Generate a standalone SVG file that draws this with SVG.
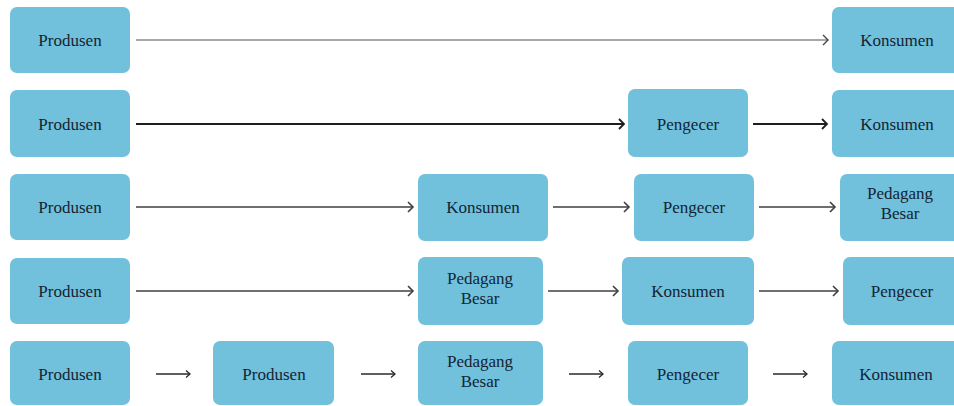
<svg xmlns="http://www.w3.org/2000/svg" width="954" height="406" viewBox="0 0 954 406">
<style>
.box{fill:#71c1dc;}
.t{font-family:'Liberation Serif','Times New Roman',serif;font-size:17px;fill:#142433;text-anchor:middle;}
.c1{stroke:#8c8c8c;stroke-width:1.3;fill:none;}
.c2{stroke:#1e1e1e;stroke-width:2;fill:none;}
.c3{stroke:#3f3f3f;stroke-width:1.5;fill:none;}
.c4{stroke:#2a2a2a;stroke-width:1.3;fill:none;}
</style>
<defs>
<marker id="a1" markerUnits="userSpaceOnUse" markerWidth="12" markerHeight="14" refX="9" refY="7" orient="auto"><path d="M4,2 L9,7 L4,12" fill="none" stroke="#444" stroke-width="1.4"/></marker>
<marker id="a2" markerUnits="userSpaceOnUse" markerWidth="12" markerHeight="14" refX="9" refY="7" orient="auto"><path d="M4,2 L9,7 L4,12" fill="none" stroke="#1e1e1e" stroke-width="1.8"/></marker>
<marker id="a3" markerUnits="userSpaceOnUse" markerWidth="12" markerHeight="14" refX="9" refY="7" orient="auto"><path d="M4,2 L9,7 L4,12" fill="none" stroke="#3f3f3f" stroke-width="1.6"/></marker>
<marker id="a4" markerUnits="userSpaceOnUse" markerWidth="12" markerHeight="12" refX="9" refY="6" orient="auto"><path d="M5,2.5 L9,6 L5,9.5" fill="none" stroke="#2a2a2a" stroke-width="1.3"/></marker>
</defs>
<g id="connectors">
<line class="c1" x1="136" y1="40" x2="828" y2="40" marker-end="url(#a1)"/>
<line class="c2" x1="136" y1="124" x2="624" y2="124" marker-end="url(#a2)"/>
<line class="c2" x1="753" y1="124" x2="827" y2="124" marker-end="url(#a2)"/>
<line class="c3" x1="136" y1="207" x2="413" y2="207" marker-end="url(#a3)"/>
<line class="c3" x1="553" y1="207" x2="629" y2="207" marker-end="url(#a3)"/>
<line class="c3" x1="759" y1="207" x2="835" y2="207" marker-end="url(#a3)"/>
<line class="c3" x1="136" y1="291" x2="413" y2="291" marker-end="url(#a3)"/>
<line class="c3" x1="548" y1="291" x2="618" y2="291" marker-end="url(#a3)"/>
<line class="c3" x1="759" y1="291" x2="838" y2="291" marker-end="url(#a3)"/>
<line class="c4" x1="156" y1="374" x2="190" y2="374" marker-end="url(#a4)"/>
<line class="c4" x1="361" y1="374" x2="395" y2="374" marker-end="url(#a4)"/>
<line class="c4" x1="569" y1="374" x2="603" y2="374" marker-end="url(#a4)"/>
<line class="c4" x1="773" y1="374" x2="807" y2="374" marker-end="url(#a4)"/>
</g>
<g id="r1-produsen"><rect class="box" x="10" y="7" width="120" height="66" rx="7"/><text class="t" x="70" y="46">Produsen</text></g>
<g id="r1-konsumen"><rect class="box" x="832" y="7" width="128" height="66" rx="7"/><text class="t" x="897" y="46">Konsumen</text></g>
<g id="r2-produsen"><rect class="box" x="10" y="90" width="120" height="67" rx="7"/><text class="t" x="70" y="130">Produsen</text></g>
<g id="r2-pengecer"><rect class="box" x="628" y="89" width="120" height="68" rx="7"/><text class="t" x="688" y="130">Pengecer</text></g>
<g id="r2-konsumen"><rect class="box" x="832" y="90" width="128" height="67" rx="7"/><text class="t" x="897" y="130">Konsumen</text></g>
<g id="r3-produsen"><rect class="box" x="10" y="174" width="120" height="66" rx="7"/><text class="t" x="70" y="213">Produsen</text></g>
<g id="r3-konsumen"><rect class="box" x="418" y="174" width="130" height="67" rx="7"/><text class="t" x="483" y="213">Konsumen</text></g>
<g id="r3-pengecer"><rect class="box" x="634" y="174" width="120" height="67" rx="7"/><text class="t" x="694" y="213">Pengecer</text></g>
<g id="r3-pedagang"><rect class="box" x="840" y="174" width="120" height="67" rx="7"/><text class="t" x="900" y="199">Pedagang</text><text class="t" x="900" y="219">Besar</text></g>
<g id="r4-produsen"><rect class="box" x="10" y="258" width="120" height="66" rx="7"/><text class="t" x="70" y="297">Produsen</text></g>
<g id="r4-pedagang"><rect class="box" x="418" y="257" width="125" height="68" rx="7"/><text class="t" x="480" y="284">Pedagang</text><text class="t" x="480" y="304">Besar</text></g>
<g id="r4-konsumen"><rect class="box" x="622" y="257" width="132" height="68" rx="7"/><text class="t" x="688" y="297">Konsumen</text></g>
<g id="r4-pengecer"><rect class="box" x="843" y="257" width="117" height="68" rx="7"/><text class="t" x="902" y="297">Pengecer</text></g>
<g id="r5-produsen1"><rect class="box" x="10" y="341" width="120" height="64" rx="7"/><text class="t" x="70" y="380">Produsen</text></g>
<g id="r5-produsen2"><rect class="box" x="213" y="341" width="121" height="64" rx="7"/><text class="t" x="274" y="380">Produsen</text></g>
<g id="r5-pedagang"><rect class="box" x="418" y="341" width="125" height="64" rx="7"/><text class="t" x="480" y="367">Pedagang</text><text class="t" x="480" y="387">Besar</text></g>
<g id="r5-pengecer"><rect class="box" x="628" y="341" width="120" height="64" rx="7"/><text class="t" x="688" y="380">Pengecer</text></g>
<g id="r5-konsumen"><rect class="box" x="832" y="341" width="128" height="64" rx="7"/><text class="t" x="896" y="380">Konsumen</text></g>
</svg>
